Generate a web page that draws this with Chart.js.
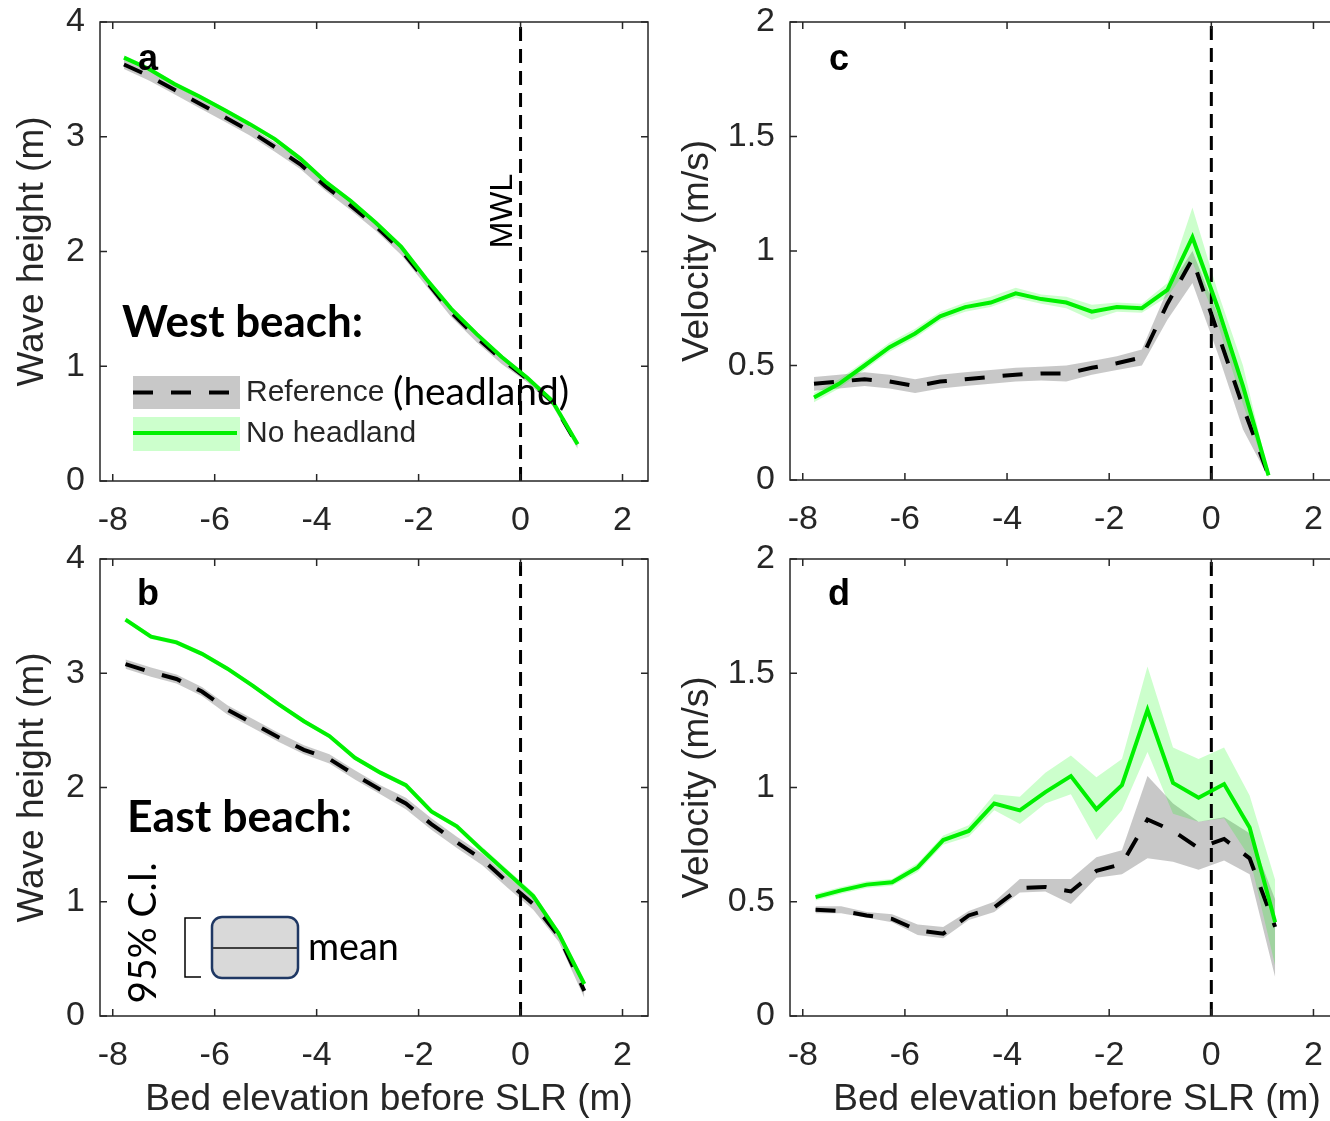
<!DOCTYPE html>
<html>
<head>
<meta charset="utf-8">
<script src="https://cdn.jsdelivr.net/npm/chart.js@4.4.1/dist/chart.umd.min.js"></script>
<style>
html, body { margin: 0; padding: 0; background: #fff; overflow: hidden; width: 1330px; height: 1121px; }
canvas { position: absolute; }
</style>
</head>
<body>
<canvas id="panelA" width="665" height="540" style="left:0;top:0"></canvas>
<canvas id="panelB" width="665" height="581" style="left:0;top:540px"></canvas>
<canvas id="panelC" width="690" height="540" style="left:665px;top:0"></canvas>
<canvas id="panelD" width="690" height="581" style="left:665px;top:540px"></canvas>
<script>
// bed elevation (m) of the sampled points
const xWest = [-7.78, -7.29, -6.79, -6.30, -5.80, -5.31, -4.82, -4.32, -3.83, -3.33, -2.84, -2.34, -1.85, -1.36, -0.86, -0.37, 0.13, 0.62, 1.12];
const xEast = [-7.75, -7.25, -6.75, -6.25, -5.75, -5.25, -4.75, -4.25, -3.75, -3.25, -2.75, -2.25, -1.75, -1.25, -0.75, -0.25, 0.25, 0.75, 1.25];

const xTickVals = [-8, -6, -4, -2, 0, 2];
const heightTickVals = [0, 1, 2, 3, 4];
const velocityTickVals = [0, 0.5, 1, 1.5, 2];

// a: west beach, wave height
const aRef    = [3.63, 3.53, 3.41, 3.29, 3.17, 3.05, 2.91, 2.76, 2.57, 2.40, 2.22, 2.01, 1.74, 1.47, 1.25, 1.06, 0.89, 0.69, 0.31];
const aRefHi  = [3.67, 3.57, 3.45, 3.33, 3.21, 3.09, 2.95, 2.80, 2.61, 2.44, 2.26, 2.05, 1.78, 1.51, 1.29, 1.10, 0.92, 0.72, 0.34];
const aRefLo  = [3.59, 3.49, 3.37, 3.25, 3.13, 3.01, 2.87, 2.72, 2.53, 2.36, 2.18, 1.97, 1.70, 1.43, 1.21, 1.02, 0.86, 0.66, 0.28];
const aNoH    = [3.69, 3.59, 3.46, 3.35, 3.23, 3.11, 2.98, 2.81, 2.61, 2.44, 2.25, 2.04, 1.76, 1.50, 1.28, 1.08, 0.90, 0.70, 0.32];
const aNoHHi  = [3.71, 3.61, 3.48, 3.37, 3.25, 3.13, 3.00, 2.83, 2.63, 2.46, 2.27, 2.06, 1.78, 1.52, 1.30, 1.10, 0.92, 0.72, 0.34];
const aNoHLo  = [3.67, 3.57, 3.44, 3.33, 3.21, 3.09, 2.96, 2.79, 2.59, 2.42, 2.23, 2.02, 1.74, 1.48, 1.26, 1.06, 0.88, 0.68, 0.30];

// b: east beach, wave height
const bRef    = [3.08, 3.01, 2.95, 2.84, 2.68, 2.56, 2.44, 2.33, 2.25, 2.11, 1.98, 1.86, 1.68, 1.52, 1.37, 1.17, 0.98, 0.70, 0.22];
const bRefHi  = [3.12, 3.05, 2.99, 2.88, 2.72, 2.60, 2.48, 2.37, 2.29, 2.15, 2.02, 1.91, 1.73, 1.57, 1.42, 1.22, 1.03, 0.75, 0.28];
const bRefLo  = [3.04, 2.97, 2.91, 2.80, 2.64, 2.52, 2.40, 2.29, 2.21, 2.07, 1.94, 1.81, 1.63, 1.47, 1.32, 1.12, 0.93, 0.65, 0.16];
const bNoH    = [3.47, 3.32, 3.27, 3.17, 3.04, 2.89, 2.73, 2.58, 2.45, 2.26, 2.13, 2.02, 1.79, 1.66, 1.45, 1.25, 1.05, 0.72, 0.28];
const bNoHHi  = [3.49, 3.34, 3.29, 3.19, 3.06, 2.91, 2.75, 2.60, 2.47, 2.28, 2.15, 2.04, 1.81, 1.68, 1.48, 1.28, 1.08, 0.75, 0.31];
const bNoHLo  = [3.45, 3.30, 3.25, 3.15, 3.02, 2.87, 2.71, 2.56, 2.43, 2.24, 2.11, 2.00, 1.77, 1.64, 1.42, 1.22, 1.02, 0.69, 0.25];

// c: west beach, velocity
const cRef    = [0.42, 0.43, 0.44, 0.43, 0.41, 0.43, 0.44, 0.45, 0.46, 0.465, 0.465, 0.49, 0.51, 0.535, 0.77, 0.965, 0.64, 0.32, 0.02];
const cRefHi  = [0.45, 0.46, 0.47, 0.46, 0.44, 0.46, 0.47, 0.48, 0.49, 0.495, 0.50, 0.52, 0.54, 0.57, 0.83, 1.00, 0.72, 0.40, 0.03];
const cRefLo  = [0.39, 0.40, 0.41, 0.40, 0.38, 0.40, 0.41, 0.42, 0.43, 0.435, 0.43, 0.46, 0.48, 0.50, 0.70, 0.86, 0.55, 0.22, 0.01];
const cNoH    = [0.36, 0.42, 0.50, 0.58, 0.64, 0.715, 0.755, 0.775, 0.815, 0.79, 0.775, 0.735, 0.755, 0.75, 0.83, 1.06, 0.75, 0.41, 0.02];
const cNoHHi  = [0.38, 0.44, 0.52, 0.60, 0.66, 0.735, 0.775, 0.80, 0.84, 0.81, 0.80, 0.765, 0.775, 0.77, 0.86, 1.19, 0.82, 0.50, 0.03];
const cNoHLo  = [0.34, 0.40, 0.48, 0.56, 0.62, 0.695, 0.735, 0.755, 0.795, 0.77, 0.75, 0.70, 0.735, 0.73, 0.80, 0.95, 0.68, 0.33, 0.01];

// d: east beach, velocity
const dRef    = [0.465, 0.46, 0.44, 0.425, 0.375, 0.36, 0.44, 0.475, 0.56, 0.565, 0.545, 0.635, 0.665, 0.86, 0.81, 0.735, 0.775, 0.69, 0.39];
const dRefHi  = [0.48, 0.48, 0.455, 0.445, 0.40, 0.39, 0.46, 0.50, 0.60, 0.60, 0.60, 0.695, 0.725, 1.05, 0.93, 0.85, 0.87, 0.80, 0.51];
const dRefLo  = [0.45, 0.45, 0.43, 0.41, 0.355, 0.34, 0.42, 0.455, 0.54, 0.545, 0.49, 0.605, 0.62, 0.69, 0.675, 0.64, 0.68, 0.62, 0.17];
const dNoH    = [0.52, 0.55, 0.575, 0.585, 0.65, 0.77, 0.81, 0.93, 0.90, 0.98, 1.05, 0.905, 1.01, 1.34, 1.02, 0.955, 1.015, 0.825, 0.41];
const dNoHHi  = [0.535, 0.565, 0.59, 0.60, 0.67, 0.79, 0.835, 0.97, 0.96, 1.065, 1.14, 1.045, 1.125, 1.53, 1.175, 1.125, 1.175, 0.965, 0.595];
const dNoHLo  = [0.505, 0.535, 0.56, 0.57, 0.63, 0.75, 0.785, 0.90, 0.84, 0.93, 0.97, 0.77, 0.90, 1.155, 0.885, 0.85, 0.865, 0.695, 0.22];

const INK = '#262626';
const GREEN = '#00f000';
const GREY_BAND = 'rgba(145,145,145,0.5)';
const GREEN_BAND = 'rgba(0,255,0,0.2)';
const SANS = "'Liberation Sans', Arial, sans-serif";
const CAL = "Lato, 'Open Sans', sans-serif";
const NONE = 'rgba(0,0,0,0)';

const pts = (xs, ys) => xs.map((x, i) => ({ x: x, y: ys[i] }));

// font size that makes text span the given width
function fitFont(ctx, text, weight, family, width) {
    ctx.font = weight + ' 40px ' + family;
    const size = 40 * width / ctx.measureText(text).width;
    return weight + ' ' + size.toFixed(1) + 'px ' + family;
}

function label(ctx, text, x, y, font, color, align, baseline) {
    ctx.font = font;
    ctx.fillStyle = color || '#000';
    ctx.textAlign = align || 'left';
    ctx.textBaseline = baseline || 'alphabetic';
    ctx.fillText(text, x, y);
}

function xTitle(ctx, cx) {
    label(ctx, 'Bed elevation before SLR (m)', cx, 1100, '37px ' + SANS, INK, 'center', 'middle');
}

// page-coordinate decorations for each panel
const decorations = {
    panelA(ctx) {
        label(ctx, 'a', 148, 60, 'bold 36px ' + SANS, '#000', 'center', 'middle');
        ctx.save();
        ctx.translate(503, 211);
        ctx.rotate(-Math.PI / 2);
        label(ctx, 'MWL', 0, 0, '32px ' + SANS, '#000', 'center', 'middle');
        ctx.restore();
        ctx.save();
        label(ctx, 'West beach:', 122, 337, fitFont(ctx, 'West beach:', 'bold', CAL, 241), '#000');
        // legend
        ctx.fillStyle = '#c8c8c8';
        ctx.fillRect(133, 376, 107, 33);
        ctx.fillStyle = '#ccffcc';
        ctx.fillRect(133, 417, 107, 34);
        ctx.lineWidth = 4;
        ctx.strokeStyle = '#000';
        ctx.setLineDash([20, 18]);
        ctx.beginPath(); ctx.moveTo(133, 392.5); ctx.lineTo(236, 392.5); ctx.stroke();
        ctx.setLineDash([]);
        ctx.strokeStyle = GREEN;
        ctx.beginPath(); ctx.moveTo(133, 433); ctx.lineTo(237, 433); ctx.stroke();
        ctx.restore();
        label(ctx, 'Reference', 246, 401, '30px ' + SANS, INK);
        label(ctx, 'No headland', 246, 442, '30px ' + SANS, INK);
        label(ctx, '(headland)', 393, 405, fitFont(ctx, '(headland)', 'normal', CAL, 176), '#000');
    },
    panelB(ctx) {
        label(ctx, 'b', 148, 595, 'bold 36px ' + SANS, '#000', 'center', 'middle');
        label(ctx, 'East beach:', 127, 832, fitFont(ctx, 'East beach:', 'bold', CAL, 225), '#000');
        ctx.save();
        ctx.translate(143, 933);
        ctx.rotate(-Math.PI / 2);
        label(ctx, '95% C.I.', 0, 0, fitFont(ctx, '95% C.I.', 'normal', CAL, 141), '#000', 'center', 'middle');
        ctx.restore();
        // bracket and key box
        ctx.save();
        ctx.strokeStyle = '#000';
        ctx.lineWidth = 1.5;
        ctx.beginPath();
        ctx.moveTo(201, 918); ctx.lineTo(185, 918); ctx.lineTo(185, 977); ctx.lineTo(201, 977);
        ctx.stroke();
        ctx.beginPath();
        ctx.roundRect(212, 917, 86, 61, 10);
        ctx.fillStyle = '#d9d9d9';
        ctx.fill();
        ctx.strokeStyle = '#1f3864';
        ctx.lineWidth = 2.5;
        ctx.stroke();
        ctx.strokeStyle = '#404040';
        ctx.lineWidth = 2;
        ctx.beginPath(); ctx.moveTo(213, 948); ctx.lineTo(297, 948); ctx.stroke();
        ctx.restore();
        label(ctx, 'mean', 308, 960, fitFont(ctx, 'mean', 'normal', CAL, 91), '#000');
        xTitle(ctx, 389);
    },
    panelC(ctx) {
        label(ctx, 'c', 839, 60, 'bold 36px ' + SANS, '#000', 'center', 'middle');
    },
    panelD(ctx) {
        label(ctx, 'd', 839, 595, 'bold 36px ' + SANS, '#000', 'center', 'middle');
        xTitle(ctx, 1077);
    }
};

// box with inward ticks on all four sides, then panel decorations
const framePlugin = {
    id: 'frame',
    afterDatasetsDraw(chart) {
        const { ctx, chartArea: a, scales } = chart;
        const t = 7;
        ctx.save();
        ctx.strokeStyle = INK;
        ctx.lineWidth = 1.5;
        ctx.strokeRect(a.left, a.top, a.right - a.left, a.bottom - a.top);
        ctx.beginPath();
        scales.x.ticks.forEach(tk => {
            const px = scales.x.getPixelForValue(tk.value);
            ctx.moveTo(px, a.bottom); ctx.lineTo(px, a.bottom - t);
            ctx.moveTo(px, a.top); ctx.lineTo(px, a.top + t);
        });
        scales.y.ticks.forEach(tk => {
            const py = scales.y.getPixelForValue(tk.value);
            ctx.moveTo(a.left, py); ctx.lineTo(a.left + t, py);
            ctx.moveTo(a.right, py); ctx.lineTo(a.right - t, py);
        });
        ctx.stroke();
        ctx.restore();

        const el = chart.canvas;
        ctx.save();
        ctx.translate(-el.offsetLeft, -el.offsetTop);
        decorations[el.id](ctx);
        ctx.restore();
    }
};

function makePanel(p) {
    const datasets = [
        { label: 'No headland', data: pts(p.x, p.noH), borderColor: GREEN, borderWidth: 4, fill: false },
        { label: 'Reference (headland)', data: pts(p.x, p.ref), borderColor: '#000', borderWidth: 4, borderDash: [20, 18], fill: false },
        { label: 'MWL', data: [{ x: 0, y: 0 }, { x: 0, y: p.yMax }], borderColor: '#000', borderWidth: 3, borderDash: [14, 8], fill: false },
        { label: 'No headland 95% C.I.', data: pts(p.x, p.noHHi), borderColor: NONE, backgroundColor: GREEN_BAND, fill: '+1' },
        { label: 'No headland lower', data: pts(p.x, p.noHLo), borderColor: NONE, fill: false },
        { label: 'Reference 95% C.I.', data: pts(p.x, p.refHi), borderColor: NONE, backgroundColor: GREY_BAND, fill: '+1' },
        { label: 'Reference lower', data: pts(p.x, p.refLo), borderColor: NONE, fill: false }
    ];

    new Chart(document.getElementById(p.id), {
        type: 'line',
        data: { datasets: datasets },
        plugins: [framePlugin],
        options: {
            responsive: false,
            animation: false,
            layout: { padding: { top: p.padTop, right: p.padRight, left: 0, bottom: 0 } },
            elements: { point: { radius: 0 }, line: { tension: 0, borderCapStyle: 'butt' } },
            plugins: { legend: { display: false }, tooltip: { enabled: false } },
            scales: {
                x: {
                    type: 'linear',
                    min: -8.25,
                    max: 2.5,
                    grid: { display: false },
                    border: { display: false },
                    afterBuildTicks: s => { s.ticks = xTickVals.map(v => ({ value: v })); },
                    afterFit: s => { s.height = p.xHeight; s.paddingLeft = 0; s.paddingRight = 0; },
                    ticks: { color: INK, font: { family: SANS, size: 34 }, padding: 11, maxRotation: 0, autoSkip: false,
                        callback: v => String(v) }
                },
                y: {
                    type: 'linear',
                    min: 0,
                    max: p.yMax,
                    grid: { display: false },
                    border: { display: false },
                    afterBuildTicks: s => { s.ticks = p.yTicks.map(v => ({ value: v })); },
                    afterFit: s => { s.width = p.yWidth; s.paddingTop = 0; s.paddingBottom = 0; },
                    ticks: { color: INK, font: { family: SANS, size: 34 }, padding: 7, autoSkip: false,
                        callback: v => String(v) },
                    title: { display: true, text: p.yTitle, color: INK, font: { family: SANS, size: 37 }, padding: { top: 11, bottom: 0 } }
                }
            }
        }
    });
}

makePanel({ id: 'panelA', x: xWest, ref: aRef, refHi: aRefHi, refLo: aRefLo, noH: aNoH, noHHi: aNoHHi, noHLo: aNoHLo,
    yMax: 4, yTicks: heightTickVals, yTitle: 'Wave height (m)', padTop: 22, padRight: 17, yWidth: 100, xHeight: 59 });
makePanel({ id: 'panelB', x: xEast, ref: bRef, refHi: bRefHi, refLo: bRefLo, noH: bNoH, noHHi: bNoHHi, noHLo: bNoHLo,
    yMax: 4, yTicks: heightTickVals, yTitle: 'Wave height (m)', padTop: 19, padRight: 17, yWidth: 100, xHeight: 105 });
makePanel({ id: 'panelC', x: xWest, ref: cRef, refHi: cRefHi, refLo: cRefLo, noH: cNoH, noHHi: cNoHHi, noHLo: cNoHLo,
    yMax: 2, yTicks: velocityTickVals, yTitle: 'Velocity (m/s)', padTop: 22, padRight: 16, yWidth: 125, xHeight: 60 });
makePanel({ id: 'panelD', x: xEast, ref: dRef, refHi: dRefHi, refLo: dRefLo, noH: dNoH, noHHi: dNoHHi, noHLo: dNoHLo,
    yMax: 2, yTicks: velocityTickVals, yTitle: 'Velocity (m/s)', padTop: 19, padRight: 16, yWidth: 125, xHeight: 105 });
</script>
</body>
</html>
